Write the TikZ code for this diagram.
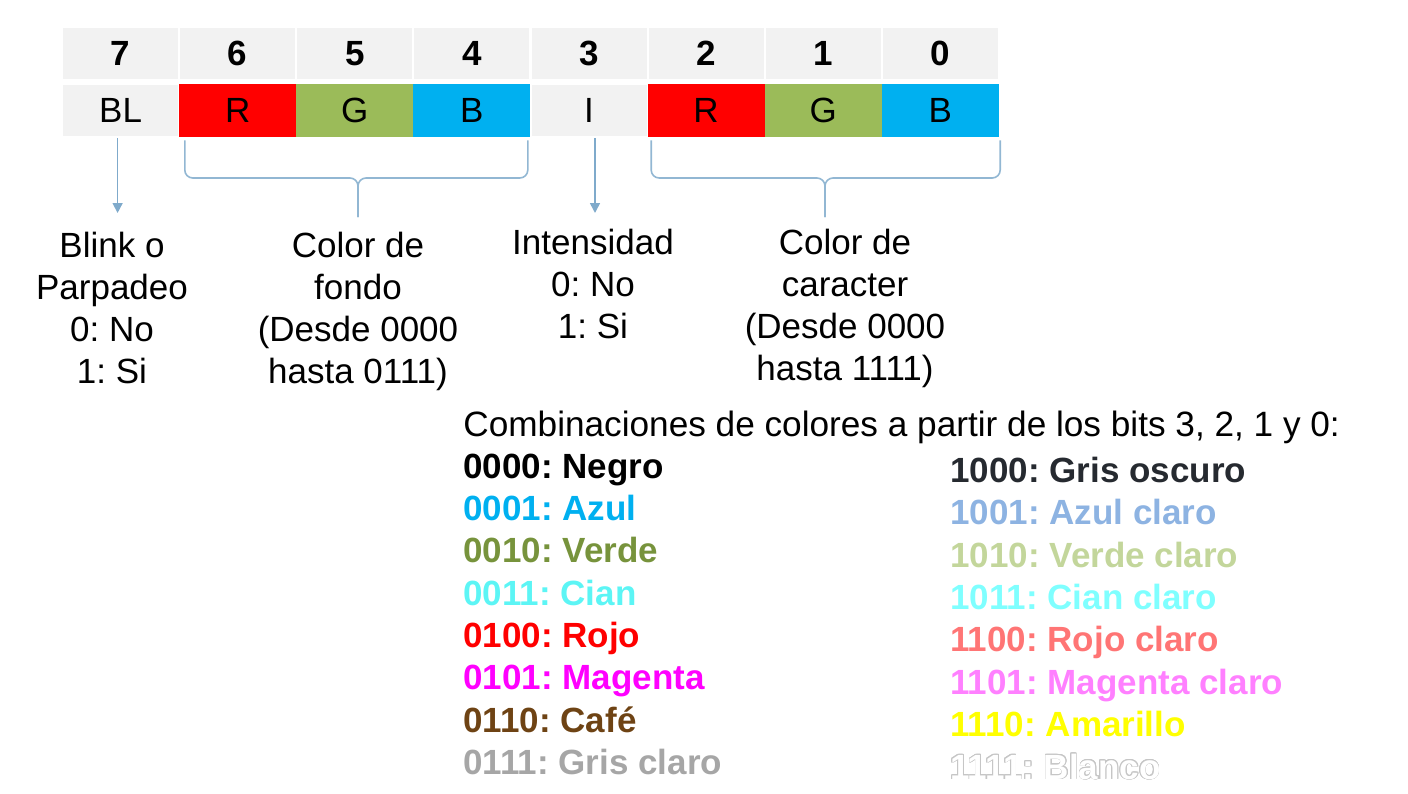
\documentclass[tikz,border=0pt]{standalone}
\usepackage{fontspec}
\setmainfont{Liberation Sans}
\usepackage{contour}
\usetikzlibrary{arrows.meta}
\frenchspacing

\definecolor{grisfondo}{HTML}{F2F2F2}
\definecolor{rojobit}{HTML}{FF0000}
\definecolor{verdebit}{HTML}{9BBB59}
\definecolor{azulbit}{HTML}{00B0F0}
\definecolor{lineaazul}{HTML}{7FAACB}
\definecolor{cVerde}{HTML}{77933C}
\definecolor{cCian}{HTML}{5CF5F5}
\definecolor{cMagenta}{HTML}{FF00FF}
\definecolor{cCafe}{HTML}{6E4314}
\definecolor{cGrisClaro}{HTML}{A6A6A6}
\definecolor{cGrisOscuro}{HTML}{262A30}
\definecolor{cAzulClaro}{HTML}{8DB3E2}
\definecolor{cVerdeClaro}{HTML}{C3D69B}
\definecolor{cCianClaro}{HTML}{7FFFFF}
\definecolor{cRojoClaro}{HTML}{FF7575}
\definecolor{cMagentaClaro}{HTML}{FF80FF}
\definecolor{cAmarillo}{HTML}{FFFF00}

\tikzset{
  texto/.style={font=\fontsize{17.5}{21}\selectfont, inner sep=0pt},
  celda/.style={texto, minimum width=58.5pt, minimum height=26.5pt},
  gris/.style={celda, fill=grisfondo, draw=white, line width=1pt},
  numero/.style={gris, font=\fontsize{17.5}{21}\selectfont\bfseries},
  etiqueta/.style={texto, align=center, anchor=north},
  flecha/.style={draw=lineaazul, line width=0.8pt, -{Triangle[width=5pt,length=5pt]}},
  llave/.style={draw=lineaazul!85, line width=0.8pt, rounded corners=4pt}
}

\begin{document}
\begin{tikzpicture}[x=0.5pt, y=-0.5pt]
    \useasboundingbox (0,0) rectangle (1408,793);
    % fila de numeros de bit
    \node[numero] (n7) at (120.6,53.5) {7};
    \node[numero] (n6) at (237.7,53.5) {6};
    \node[numero] (n5) at (354.8,53.5) {5};
    \node[numero] (n4) at (471.9,53.5) {4};
    \node[numero] (n3) at (589.0,53.5) {3};
    \node[numero] (n2) at (706.1,53.5) {2};
    \node[numero] (n1) at (823.2,53.5) {1};
    \node[numero] (n0) at (940.3,53.5) {0};
    % fila de campos
    \node[gris] (bl) at (120.6,110.5) {BL};
    \node[celda, fill=rojobit] (rf) at (237.7,110.5) {R};
    \node[celda, fill=verdebit] (gf) at (354.8,110.5) {G};
    \node[celda, fill=azulbit] (bf) at (471.9,110.5) {B};
    \node[gris] (int) at (589.0,110.5) {I};
    \node[celda, fill=rojobit] (rc) at (706.1,110.5) {R};
    \node[celda, fill=verdebit] (gc) at (823.2,110.5) {G};
    \node[celda, fill=azulbit] (bc) at (940.3,110.5) {B};
    % descripciones
    \node[etiqueta] (blink) at (112,232) {Blink o\\Parpadeo\\0: No\\1: Si};
    \node[etiqueta] (fondo) at (358,232) {Color de\\fondo\\(Desde 0000\\hasta 0111)};
    \node[etiqueta] (inten) at (593,229) {Intensidad\\0: No\\1: Si};
    \node[etiqueta] (carac) at (845,229) {Color de\\caracter\\(Desde 0000\\hasta 1111)};
    % flechas y llaves
    \draw[flecha] ([xshift=-1.5pt]bl.south) -- ([xshift=-1.5pt]bl.south |- 0,213);
    \draw[flecha] ([xshift=3pt]int.south) -- ([xshift=3pt]int.south |- 0,213);
    \coordinate (hf) at (358,178);
    \coordinate (tf) at (358,217);
    \draw[llave] ([shift={(6,3)}]rf.south west) |- (hf) -- (tf);
    \draw[llave] ([shift={(-3,3)}]bf.south east) |- (hf) -- (tf);
    \coordinate (hc) at (825,178);
    \coordinate (tc) at (825,217);
    \draw[llave] ([shift={(4,3)}]rc.south west) |- (hc) -- (tc);
    \draw[llave] ([shift={(1,3)}]bc.south east) |- (hc) -- (tc);
    % tabla de colores
    \node[texto, anchor=base west, font=\fontsize{17.6}{21}\selectfont] (titulo) at (463,436.5)
      {Combinaciones de colores a partir de los bits 3, 2, 1 y 0:};
    \node[texto, align=left, anchor=north west, font=\fontsize{17.5}{21.15}\selectfont\bfseries] (izq) at (463,453.5) {%
      0000: Negro\\
      \textcolor{azulbit}{0001: Azul}\\
      \textcolor{cVerde}{0010: Verde}\\
      \textcolor{cCian}{0011: Cian}\\
      \textcolor{rojobit}{0100: Rojo}\\
      \textcolor{cMagenta}{0101: Magenta}\\
      \textcolor{cCafe}{0110: Café}\\
      \textcolor{cGrisClaro}{0111: Gris claro}};
    \node[texto, align=left, anchor=north west, font=\fontsize{17.5}{21.2}\selectfont\bfseries] (der) at (950,456.5) {%
      \textcolor{cGrisOscuro}{1000: Gris oscuro}\\
      \textcolor{cAzulClaro}{1001: Azul claro}\\
      \textcolor{cVerdeClaro}{1010: Verde claro}\\
      \textcolor{cCianClaro}{1011: Cian claro}\\
      \textcolor{cRojoClaro}{1100: Rojo claro}\\
      \textcolor{cMagentaClaro}{1101: Magenta claro}\\
      \textcolor{cAmarillo}{1110: Amarillo}\\
      \contourlength{0.4pt}\contour{gray!45}{\textcolor{white}{1111: Blanco}}};
\end{tikzpicture}
\end{document}
